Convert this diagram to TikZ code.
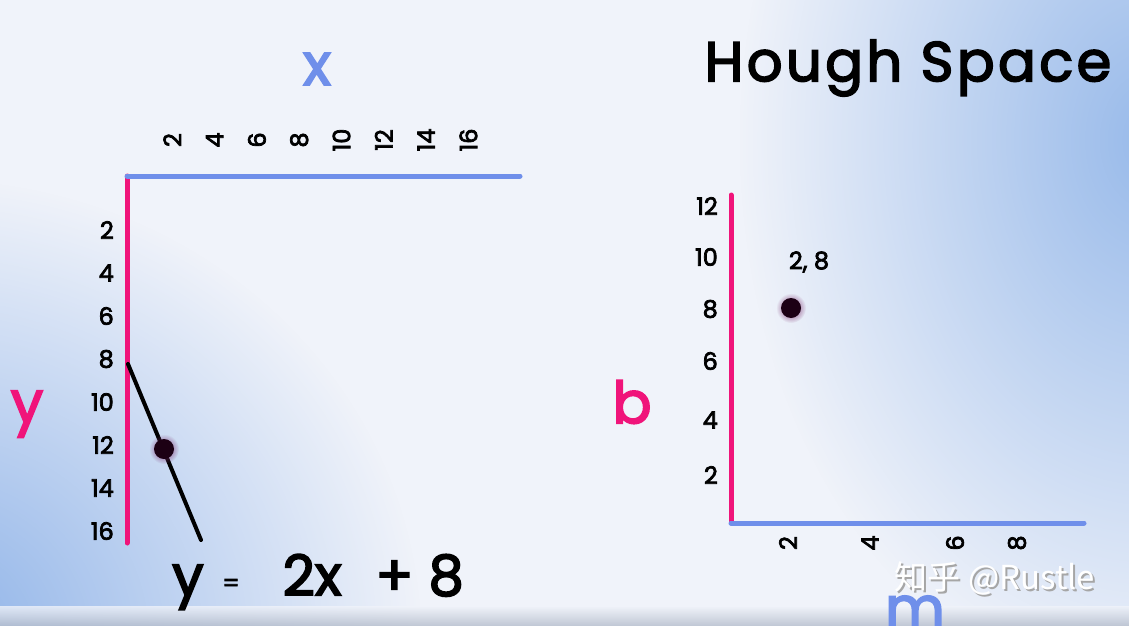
\documentclass[tikz,border=0pt]{standalone}
\usepackage{fontspec}
\setmainfont{Poppins}[FakeBold=3]
\newfontfamily\cjk{Noto Sans CJK SC}
\usetikzlibrary{fadings}

\definecolor{axispink}{HTML}{F0147A}
\definecolor{axisblue}{HTML}{6F8FEA}
\definecolor{bgbase}{HTML}{F0F3FA}
\definecolor{bgblue}{HTML}{8DB2E8}
\definecolor{bgband}{HTML}{B4BCCB}
\definecolor{dotcore}{HTML}{1C0014}
\definecolor{dotglow}{HTML}{7A2A6A}

\tikzfading[name=softglow, inner color=transparent!0, outer color=transparent!100]

\tikzset{
  ticklabel/.style={font=\fontsize{24}{24}\selectfont, inner sep=0pt},
  axislabel/.style={font=\fontsize{58}{58}\selectfont, inner sep=0pt},
  pinkaxis/.style={axispink, line width=5pt, line cap=round},
  blueaxis/.style={axisblue, line width=5pt, line cap=round},
  dot/.style={circle, fill=dotcore, minimum size=20pt, inner sep=0pt},
}

\begin{document}
\begin{tikzpicture}[x=1pt, y=-1pt]
        \useasboundingbox (0,0) rectangle (1129,626);
        \clip (0,0) rectangle (1129,626);

        % Background
        \fill[bgbase] (0,0) rectangle (1129,626);
        \fill[bgblue, path fading=softglow] (-560,180) rectangle (420,1100);
        \fill[bgblue!90, path fading=softglow] (740,-420) rectangle (1560,700);
        \shade[top color=bgbase, bottom color=bgband, opacity=0.8] (0,606) rectangle (1129,626);

        % Left: x-y plane axes
        \coordinate (xyorigin) at (127,176);
        \coordinate (xend) at (520,176);
        \coordinate (yend) at (127,543);
        \draw[pinkaxis] (xyorigin) -- (yend);
        \draw[blueaxis] (xyorigin) -- (xend);
        \node[axislabel, text=axisblue] (xlabel) at (317,69) {x};
        \node[axislabel, text=axispink] (ylabel) at (27,414) {y};

        % Left: tick labels
        \foreach \v [count=\i] in {2,4,6,8,10,12,14,16} {
            \node[ticklabel, rotate=90] (xt\v) at (130+42.3*\i,140) {\v};
            \node[ticklabel, anchor=east] (yt\v) at (114,187+43*\i) {\v};
        }

        % Left: the line and its point
        \coordinate (lstart) at (128,364);
        \coordinate (lend) at (201,540);
        \draw[line width=4pt, line cap=round] (lstart) -- (lend);
        \fill[dotglow, path fading=softglow] (164,449) circle (15);
        \node[dot] (xypt) at (164,449) {};

        % Equation
        \node[font=\fontsize{56}{56}\selectfont, inner sep=0pt] (eqn) at (318,582)
            {y\,\,\raisebox{4pt}{\fontsize{24}{24}\selectfont =}\,\,\, 2x\,\, + 8};

        % Hough space
        \node[font=\fontsize{56}{56}\selectfont\addfontfeatures{LetterSpace=6}, inner sep=0pt] (title) at (908,68) {Hough Space};

        \coordinate (mborigin) at (731,523);
        \coordinate (mend) at (1084,523);
        \coordinate (bend) at (731,195);
        \draw[pinkaxis] (mborigin) -- (bend);
        \draw[blueaxis] (mborigin) -- (mend);
        \node[axislabel, text=axispink] (blabel) at (632,402) {b};
        \node[axislabel, text=axisblue] (mlabel) at (915,612) {m};

        % Hough space: tick labels
        \foreach \v/\y in {12/206, 10/257, 8/309, 6/361, 4/420, 2/475}
            \node[ticklabel, anchor=east] (bt\v) at (718,\y) {\v};
        \foreach \v/\x in {2/788, 4/870, 6/955, 8/1017}
            \node[ticklabel, rotate=90] (mt\v) at (\x,543) {\v};

        % Hough space: the point
        \fill[dotglow, path fading=softglow] (791,308) circle (15);
        \node[dot] (mbpt) at (791,308) {};
        \node[ticklabel] (mbptlabel) at (809,262) {2, 8};

        % Watermark
        \node[font=\cjk\fontsize{33}{33}\selectfont, text=gray!70, inner sep=0pt] (markshadow) at (997,580) {知乎 @Rustle};
        \node[font=\cjk\fontsize{33}{33}\selectfont, text=white, inner sep=0pt] (mark) at (995,578) {知乎 @Rustle};

    \end{tikzpicture}
\end{document}
